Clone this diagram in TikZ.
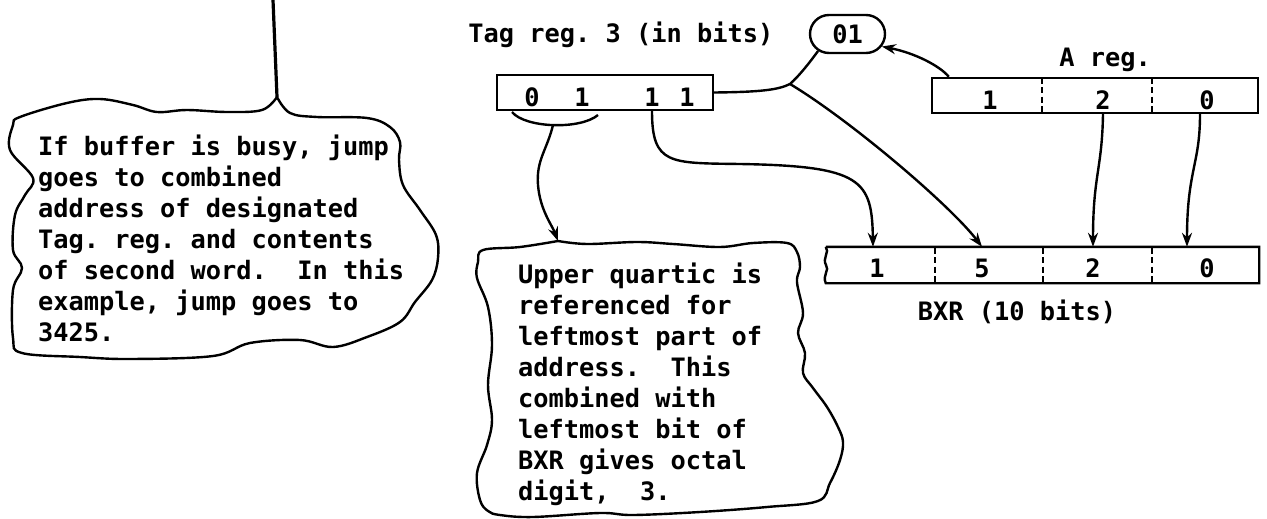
\documentclass[tikz,border=0pt]{standalone}
\usepackage{fontspec}
\setmainfont{DejaVu Sans Mono}
\usetikzlibrary{arrows.meta,calc,shapes.misc}
\frenchspacing

\tikzset{every picture/.style={line width=1.8pt}}
\tikzset{
  txt/.style={anchor=north west,inner sep=0pt,align=left,font=\bfseries\fontsize{19}{23.25}\selectfont},
  lbl/.style={inner sep=0pt,font=\bfseries\fontsize{19}{23.25}\selectfont},
  reg/.style={draw,rectangle,inner sep=0pt,minimum height=26.25pt},
  divider/.style={line width=1.2pt,dash pattern=on 4.5pt off 2.5pt},
  arr/.style={-{Stealth[length=10.5pt,width=7.5pt]}},
}

\begin{document}
\begin{tikzpicture}[x=0.75pt,y=0.75pt,yscale=-1,xscale=1]
\useasboundingbox (0,0) rectangle (1267,518);

%Stem into the left cloud
\coordinate (stemtop) at (273,0);
\coordinate (lcusp) at (277,97);
\draw[line width=2.4pt] (stemtop) -- (lcusp);

%Left cloud
\draw plot[smooth,tension=0.6] coordinates {(277,97) (290,113) (317,117) (367,118) (390,127) (400,142) (399,160) (403,185) (420,210) (436,235) (438,258) (432,280) (415,302) (400,322) (367,337) (333,347) (300,340) (250,343) (213,356) (130,359) (80,357) (22,353) (13,338) (13,290) (22,268) (13,250) (15,215) (25,195) (33,178) (10,150) (13,125) (20,117) (67,103) (100,99) (133,105) (157,112) (187,110) (227,112) (262,110) (277,97)};

% Text Node
\node[txt] (lnote) at (37,134) {If buffer is busy, jump\\goes to combined\\address of designated\\Tag. reg. and contents\\of second word.\ \ In this\\example, jump goes to\\3425.};

%Middle cloud
\coordinate (qtop) at (558,241);
\draw plot[smooth,tension=0.6] coordinates {(558,241) (587,244) (637,242) (673,244) (720,247) (753,243) (787,243) (797,252) (800,267) (797,282) (803,313) (798,333) (805,353) (803,373) (813,388) (827,407) (838,427) (843,442) (840,460) (830,483) (818,501) (767,507) (700,512) (633,515) (600,513) (533,517) (500,515) (488,511) (480,500) (477,473) (487,445) (492,420) (488,385) (492,345) (488,307) (477,278) (478,262) (483,250) (520,247) (558,241)};

% Text Node
\node[txt] (qnote) at (517,262) {Upper quartic is\\referenced for\\leftmost part of\\address.\ \ This\\combined with\\leftmost bit of\\BXR gives octal\\digit,\ \ 3.};

%Tag register
\node[lbl] (taglbl) at (621,35) {Tag reg. 3 (in bits)};
\node[reg,minimum width=162pt] (tagreg) at (605,92.5) {};
\foreach \n/\x/\d in {t0/532/0,t1/582/1,t2/652/1,t3/687/1}
  \node[lbl] (\n) at (\x,97) {\d};

%01 box
\node[lbl,draw,rounded rectangle,minimum width=56.25pt,minimum height=28.5pt] (o1) at (847.5,34) {01};

%A register
\node[lbl] (alblbl) at (1105,60) {A reg.};
\node[reg,minimum width=244.5pt] (areg) at (1095,95.5) {};
\foreach \x in {1042,1152}
  \draw[divider] (\x,78) -- (\x,113);
\foreach \n/\x/\d in {a1/990/1,a2/1103/2,a0/1207/0}
  \node[lbl] (\n) at (\x,100) {\d};

%BXR
\node[inner sep=0pt,minimum width=323.25pt,minimum height=25.5pt] (bxr) at (1042.5,265) {};
\draw (bxr.north west) -- (bxr.north east) -- (bxr.south east) -- (bxr.south west)
  .. controls (822,275) and (830,270) .. (826,265) .. controls (822,258) and (830,252) .. (bxr.north west);
\foreach \x in {935,1043,1152}
  \draw[divider] (\x,248) -- (\x,282);
\foreach \n/\x/\d in {b1/877/1,b5/982/5,b2/1093/2,b0/1207/0}
  \node[lbl] (\n) at (\x,268) {\d};
\node[lbl] (bxrlbl) at (1017,312) {BXR (10 bits)};

%Connectors
\coordinate (fork) at (790,84);
\draw (tagreg.east) .. controls (760,92) and (778,90) .. (fork) .. controls (800,75) and (810,62) .. (o1.210);
\draw[arr] ($(areg.north west)+(18,0)$) .. controls (940,66) and (915,53) .. (o1.-20);
\draw[arr] (fork) .. controls (850,120) and (950,205) .. (bxr.north -| b5);
\draw[arr] (tagreg.south -| t2) .. controls (652,165) and (670,163) .. (740,164) .. controls (862,166) and (872,180) .. ($(bxr.north -| b1)+(-4,0)$);
\draw[arr] (areg.south -| a2) .. controls (1102,170) and (1093,175) .. (bxr.north -| b2);
\draw[arr] ($(areg.south -| a0)+(-7,0)$) .. controls (1200,165) and (1187,170) .. ($(bxr.north -| b0)+(-20,0)$);

%Bracket under the upper bits
\coordinate (brL) at (512,112);
\coordinate (brR) at (598,115);
\coordinate (brM) at (553,125);
\draw (brL) .. controls (525,128) and (580,130) .. (brR);
\draw[arr] (brM) .. controls (547,150) and (536,160) .. (538,185) .. controls (540,210) and (552,225) .. (qtop);

\end{tikzpicture}
\end{document}
